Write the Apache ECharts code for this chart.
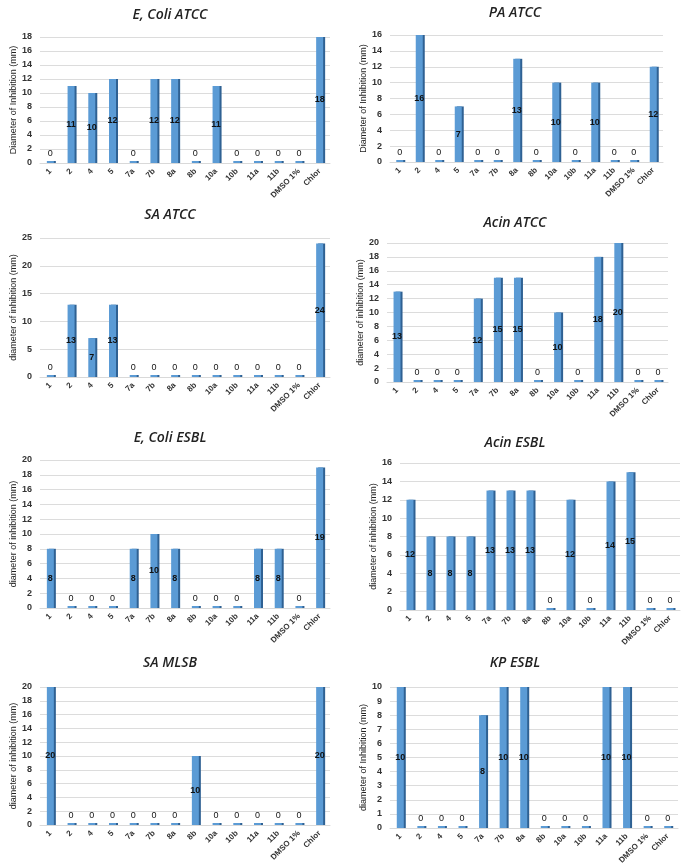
<!DOCTYPE html>
<html>
<head>
<meta charset="utf-8">
<script src="https://cdn.jsdelivr.net/npm/echarts@6/dist/echarts.min.js"></script>
<style>
  html, body { margin: 0; padding: 0; background: #fff; }
  #chart { width: 685px; height: 867px; }
</style>
</head>
<body>
<div id="chart"></div>
<script>
// compounds tested (x axis)
const categories = ['1', '2', '4', '5', '7a', '7b', '8a', '8b', '10a', '10b', '11a', '11b', 'DMSO 1%', 'Chlor'];

// diameter of inhibition (mm) per strain
const eColiAtcc = [0, 11, 10, 12, 0, 12, 12, 0, 11, 0, 0, 0, 0, 18];
const paAtcc    = [0, 16, 0, 7, 0, 0, 13, 0, 10, 0, 10, 0, 0, 12];
const saAtcc    = [0, 13, 7, 13, 0, 0, 0, 0, 0, 0, 0, 0, 0, 24];
const acinAtcc  = [13, 0, 0, 0, 12, 15, 15, 0, 10, 0, 18, 20, 0, 0];
const eColiEsbl = [8, 0, 0, 0, 8, 10, 8, 0, 0, 0, 8, 8, 0, 19];
const acinEsbl  = [12, 8, 8, 8, 13, 13, 13, 0, 12, 0, 14, 15, 0, 0];
const saMlsb    = [20, 0, 0, 0, 0, 0, 0, 10, 0, 0, 0, 0, 0, 20];
const kpEsbl    = [10, 0, 0, 0, 8, 10, 10, 0, 0, 0, 10, 10, 0, 0];

const titles = ['E, Coli ATCC', 'PA ATCC', 'SA ATCC', 'Acin ATCC', 'E, Coli ESBL', 'Acin ESBL', 'SA MLSB', 'KP ESBL'];
const yNames = ['Diameter of Inhibition (mm)', 'Diameter of Inhibition (mm)', 'diameter of inhibition (mm)',
  'diameter of inhibition (mm)', 'diameter of inhibition (mm)', 'diameter of inhibition (mm)',
  'diameter of inhibition (mm)', 'diameter of Inhibition (mm)'];
const yMax = [18, 16, 25, 20, 20, 16, 20, 10];
const yStep = [2, 2, 5, 2, 2, 2, 2, 1];
const allData = [eColiAtcc, paAtcc, saAtcc, acinAtcc, eColiEsbl, acinEsbl, saMlsb, kpEsbl];

// panel layout
const grids = [
  { left: 40, top: 37, width: 290, height: 126 },
  { left: 390, top: 35, width: 273, height: 127 },
  { left: 40, top: 238, width: 290, height: 139 },
  { left: 387, top: 243, width: 281, height: 139 },
  { left: 40, top: 460, width: 290, height: 148 },
  { left: 400, top: 463, width: 280, height: 147 },
  { left: 40, top: 687, width: 290, height: 138 },
  { left: 390, top: 687, width: 288, height: 141 }
];
const titlePos = [[165, 3], [510, 1], [165, 203], [510, 211], [165, 426], [510, 431], [165, 651], [510, 651]];

let chart = echarts.init(document.getElementById('chart'));

let option = {
  animation: false,
  title: titles.map((t, i) => ({
    text: t,
    left: titlePos[i][0],
    top: titlePos[i][1],
    textAlign: 'center',
    textStyle: { fontSize: 14, fontStyle: 'italic', fontWeight: 600, color: '#222', fontFamily: 'Open Sans' }
  })),
  grid: grids,
  xAxis: grids.map((g, i) => ({
    type: 'category',
    gridIndex: i,
    data: categories,
    axisTick: { show: false },
    axisLine: { lineStyle: { color: '#d9d9d9' } },
    axisLabel: { rotate: 45, fontSize: 8, fontWeight: 'bold', color: '#333', interval: 0, margin: 7 }
  })),
  yAxis: grids.map((g, i) => ({
    type: 'value',
    gridIndex: i,
    min: 0,
    max: yMax[i],
    interval: yStep[i],
    name: yNames[i],
    nameLocation: 'middle',
    nameGap: 22,
    nameTextStyle: { fontSize: 9, color: '#222' },
    axisLine: { show: false },
    axisTick: { show: false },
    axisLabel: { fontSize: 9, fontWeight: 'bold', color: '#333', margin: 8 },
    splitLine: { lineStyle: { color: '#dcdcdc' } }
  })),
  series: allData.map((vals, i) => ({
    type: 'bar',
    xAxisIndex: i,
    yAxisIndex: i,
    barWidth: 7,
    barMinHeight: 2,
    itemStyle: {
      color: '#5b9bd5',
      shadowColor: '#2f6193',
      shadowOffsetX: 2,
      shadowOffsetY: 0,
      shadowBlur: 0
    },
    data: vals.map(v => ({
      value: v,
      label: {
        show: true,
        position: v === 0 ? 'top' : 'inside',
        distance: 3,
        fontSize: 9,
        color: '#111',
        fontWeight: v === 0 ? 'normal' : 'bold'
      }
    }))
  }))
};

chart.setOption(option);
</script>
</body>
</html>
